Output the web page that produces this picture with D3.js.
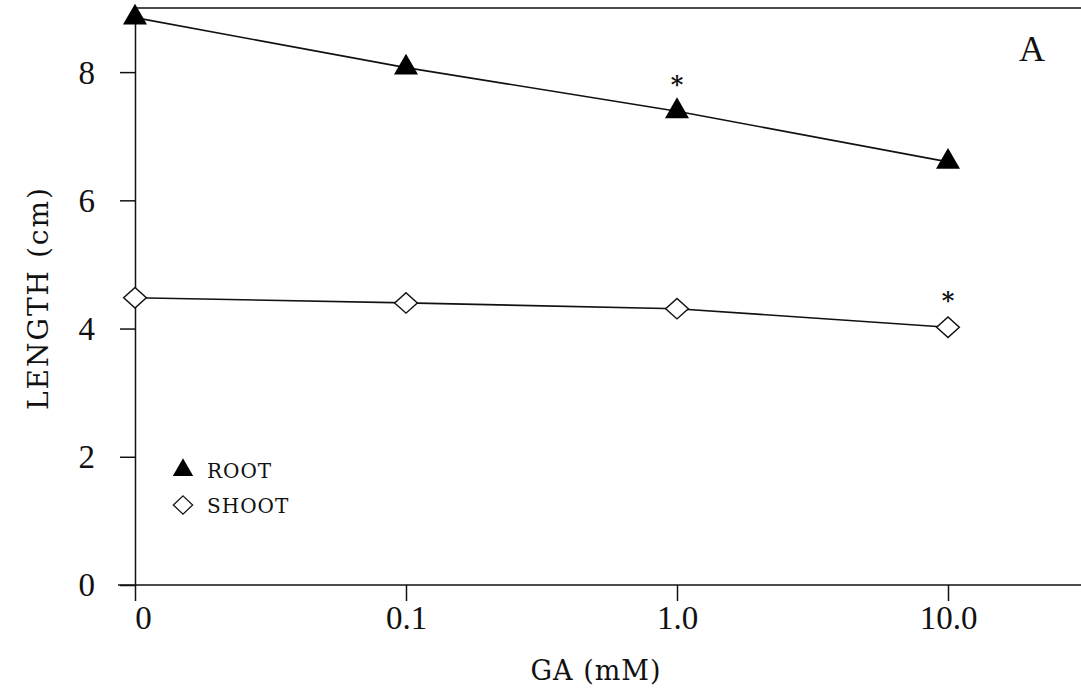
<!DOCTYPE html>
<html>
<head>
<meta charset="utf-8">
<script src="https://cdn.jsdelivr.net/npm/d3@7"></script>
<style>
  body { margin: 0; background: #fff; }
  text { font-family: "DejaVu Serif", "Liberation Serif", serif; fill: #111; }
</style>
</head>
<body>
<div id="chart"></div>
<script>
// GA concentrations (categorical positions on x)
const doses = ["0", "0.1", "1.0", "10.0"];
const rootLength = [8.85, 8.07, 7.39, 6.6];
const shootLength = [4.48, 4.40, 4.31, 4.02];
const yTicks = [0, 2, 4, 6, 8];
// significance marks: [series, dose index]
const starred = [["root", 2], ["shoot", 3]];

const W = 1081, H = 698;
const svg = d3.select("#chart").append("svg")
    .attr("width", W)
    .attr("height", H);

// x: dose index -> px, y: length -> px
const x = d3.scaleLinear().domain([0, 3]).range([135, 948]);
const y = d3.scaleLinear().domain([0, 9]).range([585, 8]);

// y axis line + outward ticks
const yAxis = svg.append("g")
    .attr("transform", `translate(${x(0)},0)`)
    .call(d3.axisLeft(y).tickValues(yTicks).tickSize(15).tickPadding(25).tickSizeOuter(0));
yAxis.select(".domain").attr("stroke", "#111").attr("stroke-width", 1.5);
yAxis.selectAll(".tick line").attr("stroke", "#111").attr("stroke-width", 1.5);
yAxis.selectAll(".tick text")
    .style("font-size", "33px")
    .style("font-family", "Liberation Serif")
    .attr("fill", "#111")
    .attr("dy", "0.33em");

// x axis
const xAxis = svg.append("g")
    .attr("transform", `translate(0,${y(0)})`)
    .call(d3.axisBottom(x).tickValues([0, 1, 2, 3]).tickFormat(i => doses[i])
        .tickSize(16).tickPadding(5).tickSizeOuter(0));
xAxis.select(".domain").attr("d", `M${x(0) - 17},0H${W}`)
    .attr("stroke", "#111").attr("stroke-width", 1.5);
xAxis.selectAll(".tick line").attr("stroke", "#111").attr("stroke-width", 1.5);
xAxis.selectAll(".tick text")
    .style("font-size", "33px")
    .style("font-family", "Liberation Serif")
    .attr("fill", "#111");
xAxis.selectAll(".tick").filter(d => d === 0).select("text").attr("dx", 8);

// top frame line
svg.append("line")
    .attr("x1", x(0)).attr("x2", W)
    .attr("y1", y(9)).attr("y2", y(9))
    .attr("stroke", "#111").attr("stroke-width", 1.5);

const line = d3.line().x((d, i) => x(i)).y(d => y(d));

svg.append("path").datum(rootLength)
    .attr("d", line).attr("fill", "none")
    .attr("stroke", "#111").attr("stroke-width", 1.6);
svg.append("path").datum(shootLength)
    .attr("d", line).attr("fill", "none")
    .attr("stroke", "#111").attr("stroke-width", 1.6);

const tri = d3.symbol().type(d3.symbolTriangle).size(250);
const dia = d3.symbol().type(d3.symbolDiamond2).size(330);

svg.selectAll(".root").data(rootLength).enter()
    .append("path").attr("class", "root")
    .attr("d", tri)
    .attr("transform", (d, i) => `translate(${x(i)},${y(d)})`)
    .attr("fill", "#000");

svg.selectAll(".shoot").data(shootLength).enter()
    .append("path").attr("class", "shoot")
    .attr("d", dia)
    .attr("transform", (d, i) => `translate(${x(i)},${y(d)}) scale(1,0.9)`)
    .attr("fill", "#fff").attr("stroke", "#111").attr("stroke-width", 1.5);

// asterisks
svg.selectAll(".star").data(starred).enter()
    .append("text").attr("class", "star")
    .attr("x", d => x(d[1]))
    .attr("y", d => y(d[0] === "root" ? rootLength[d[1]] : shootLength[d[1]]) - 18)
    .attr("text-anchor", "middle")
    .style("font-size", "24px")
    .style("font-weight", "bold")
    .text("*");

// panel letter
svg.append("text")
    .attr("x", 1032).attr("y", 61)
    .attr("text-anchor", "middle")
    .style("font-family", "Liberation Serif")
    .style("font-size", "36px")
    .text("A");

// axis titles
svg.append("text")
    .attr("transform", "rotate(-90)")
    .attr("x", -298).attr("y", 48)
    .attr("text-anchor", "middle")
    .style("font-size", "28px")
    .style("letter-spacing", "2px")
    .text("LENGTH (cm)");

svg.append("text")
    .attr("x", 596).attr("y", 680)
    .attr("text-anchor", "middle")
    .style("font-size", "27px")
    .style("letter-spacing", "1px")
    .text("GA (mM)");

// legend
const legend = svg.append("g").attr("transform", "translate(183,470)");
legend.append("path").attr("d", tri).attr("fill", "#000")
    .attr("transform", "scale(0.85)");
legend.append("path").attr("d", dia)
    .attr("transform", "translate(0,35) scale(0.85,0.8)")
    .attr("fill", "#fff").attr("stroke", "#111").attr("stroke-width", 1.5);
legend.append("text").attr("x", 24).attr("y", 8)
    .style("font-size", "20px").style("letter-spacing", "1px").text("ROOT");
legend.append("text").attr("x", 24).attr("y", 43)
    .style("font-size", "20px").style("letter-spacing", "1px").text("SHOOT");
</script>
</body>
</html>
